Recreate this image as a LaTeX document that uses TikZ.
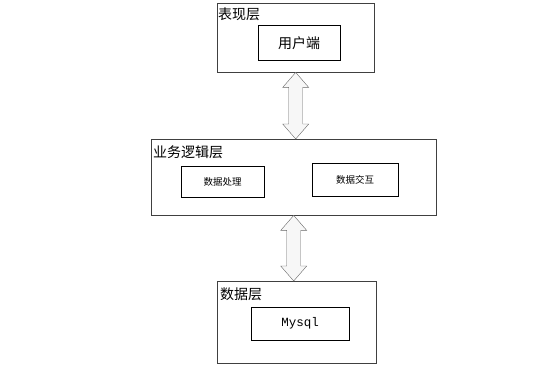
\documentclass[tikz,border=0pt]{standalone}
\usepackage{fontspec}
\newfontfamily\cjk{Noto Sans CJK SC}
\newfontfamily\codefont{Liberation Mono}
\usetikzlibrary{positioning,calc,shadows}
\tikzset{
  layer/.style={draw=black!75, fill=white, inner sep=0pt, anchor=north west,
    drop shadow={shadow xshift=1pt, shadow yshift=-1pt, fill=black!35}},
  tag/.style={inner sep=0pt, anchor=west, font=\cjk\fontsize{14}{14}\selectfont},
  unit/.style={draw, fill=white, inner sep=0pt, anchor=north west, font=\cjk\fontsize{14}{14}\selectfont},
  twoway/.style={draw=black!60, fill=black!3, line join=miter},
}
% hollow arrow pointing both ways between two stacked boxes
\newcommand\twoway[2]{%
  \draw[twoway] let \p1=(#1.south), \p2=(#2.north) in
    (\x1,\y1) -- (\x1+13pt,\y1-15pt) -- (\x1+7pt,\y1-15pt) -- (\x1+7pt,\y2+15pt)
    -- (\x1+13pt,\y2+15pt) -- (\x1,\y2) -- (\x1-13pt,\y2+15pt) -- (\x1-7pt,\y2+15pt)
    -- (\x1-7pt,\y1-15pt) -- (\x1-13pt,\y1-15pt) -- cycle;}

\begin{document}
\begin{tikzpicture}[x=1pt,y=-1pt]
\useasboundingbox (0,0) rectangle (555,372);

% presentation layer
\node[layer, minimum width=157pt, minimum height=69pt] (pres) at (217,3) {};
\node[tag] (presl) at (218,14) {表现层};
\node[unit, minimum width=82pt, minimum height=35pt] (client) at (258,25) {用户端};

% logic layer
\node[layer, minimum width=285pt, minimum height=76pt] (logic) at (151,139) {};
\node[tag] (logicl) at (153,152.5) {业务逻辑层};
\node[unit, minimum width=83pt, minimum height=31pt, font=\cjk\fontsize{9.5}{10}\selectfont] (proc) at (181,166) {数据处理};
\node[unit, minimum width=86pt, minimum height=33pt, font=\cjk\fontsize{9.5}{10}\selectfont] (swap) at (312,163) {数据交互};

% data layer
\node[layer, minimum width=159pt, minimum height=82pt] (data) at (217,281) {};
\node[tag] (datal) at (220,294.5) {数据层};
\node[unit, minimum width=98pt, minimum height=33pt, font=\codefont\fontsize{12.5}{13}\selectfont] (db) at (251,307) {Mysql};

\twoway{pres}{logic}
\twoway{logic}{data}
\end{tikzpicture}
\end{document}
